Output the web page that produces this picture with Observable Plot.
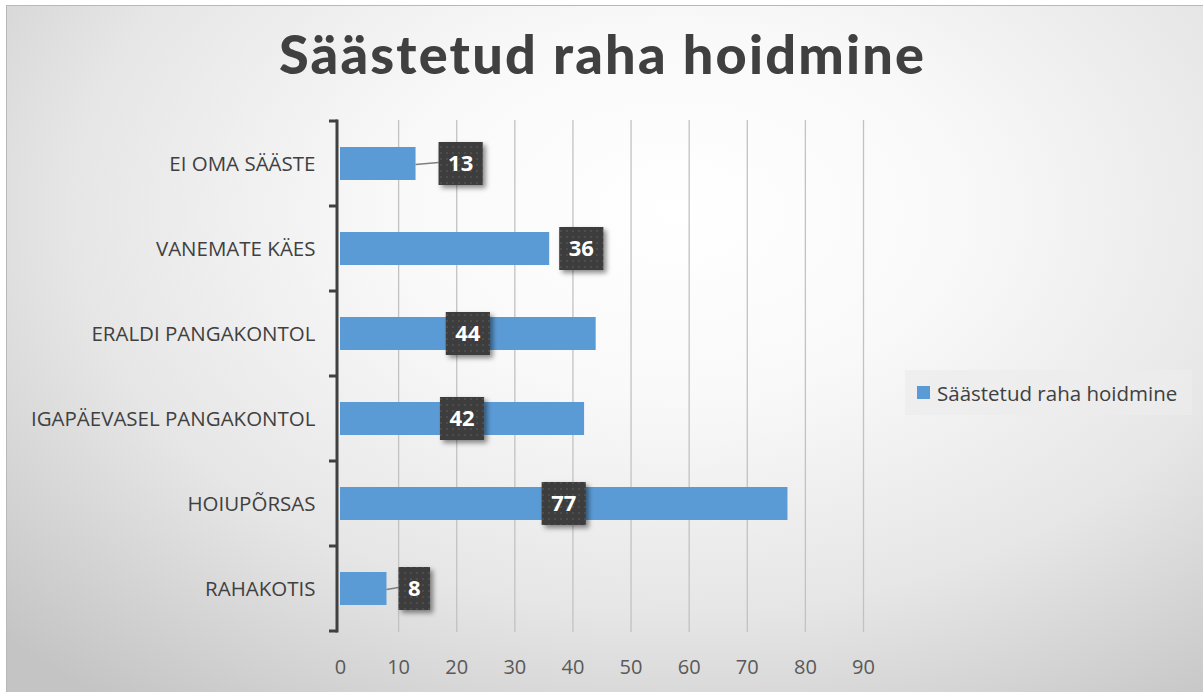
<!DOCTYPE html>
<html>
<head>
<meta charset="utf-8">
<script src="https://cdn.jsdelivr.net/npm/d3@7"></script>
<script src="https://cdn.jsdelivr.net/npm/@observablehq/plot@0.6"></script>
<style>
  html, body { margin: 0; padding: 0; background: #ffffff; }
  #wrap { position: relative; width: 1203px; height: 692px; overflow: hidden; }
  #frame {
    position: absolute; left: 6px; top: 5px; width: 1197px; height: 687px;
    box-sizing: border-box; border-left: 1px solid #b8b8b8; border-top: 1px solid #b8b8b8;
    background: radial-gradient(ellipse 78% 90% at 56% 30%, #ffffff 0%, #f9f9f9 30%, #e6e6e6 65%, #c4c4c4 100%);
  }
  #title {
    position: absolute; left: 0; width: 1203px; top: 27px; text-align: center;
    font-family: Lato, "Open Sans", sans-serif; font-weight: 900; font-size: 54px; line-height: 1;
    color: #404040; white-space: nowrap;
  }
  #chart { position: absolute; left: 0; top: 0; }
  #legend {
    position: absolute; left: 905px; top: 370px; width: 287px; height: 45px;
    background: rgba(236,236,236,0.75); display: flex; align-items: center;
    font-family: "Open Sans", Lato, sans-serif; font-size: 20.5px; color: #404040; box-sizing: border-box; padding-left: 12px;
  }
  #legend .sw { width: 13px; height: 13px; background: #5B9BD5; margin-right: 7px; flex: none; }
</style>
</head>
<body>
<div id="wrap">
  <div id="frame"></div>
  <div id="chart"></div>
  <div id="title"></div>
  <div id="legend"><span class="sw"></span><span id="legendText"></span></div>
</div>
<script>
const chartTitle = "Säästetud raha hoidmine";
const seriesName = "Säästetud raha hoidmine";
const categories = ["EI OMA SÄÄSTE", "VANEMATE KÄES", "ERALDI PANGAKONTOL", "IGAPÄEVASEL PANGAKONTOL", "HOIUPÕRSAS", "RAHAKOTIS"];
const values = [13, 36, 44, 42, 77, 8];
const xTicks = [0, 10, 20, 30, 40, 50, 60, 70, 80, 90];

const data = categories.map((c, i) => ({category: c, value: values[i]}));

// label placement styling (pixel gaps for labels drawn outside short bars)
const outsideLabel = {
  "EI OMA SÄÄSTE": {gap: 23, leader: true},
  "VANEMATE KÄES": {gap: 10, leader: false},
  "RAHAKOTIS": {gap: 12, leader: true}
};

function yFrame(index, {x, y}) {
  const g = d3.create("svg:g").attr("stroke", "#404040").attr("stroke-width", 3).attr("fill", "none");
  const bw = y.bandwidth();
  const step = y.step();
  const pad = step - bw;
  const x0 = x(0) - 3;
  const bounds = categories.map(c => y(c) - pad / 2);
  bounds.push(y(categories[categories.length - 1]) + bw + pad / 2);
  g.append("line").attr("x1", x0).attr("x2", x0).attr("y1", bounds[0] - 1.5).attr("y2", bounds[bounds.length - 1] + 1.5);
  for (const b of bounds) {
    g.append("line").attr("x1", x0 - 8).attr("x2", x0).attr("y1", b).attr("y2", b);
  }
  return g.node();
}

function dataLabels(index, {x, y}) {
  const g = d3.create("svg:g");
  const defs = g.append("defs");
  const f = defs.append("filter").attr("id", "lblShadow").attr("x", "-30%").attr("y", "-30%").attr("width", "170%").attr("height", "170%");
  f.append("feDropShadow").attr("dx", 3).attr("dy", 3).attr("stdDeviation", 2.5).attr("flood-color", "#000").attr("flood-opacity", 0.45);
  const p = defs.append("pattern").attr("id", "lblDots").attr("width", 6).attr("height", 6).attr("patternUnits", "userSpaceOnUse");
  p.append("rect").attr("width", 6).attr("height", 6).attr("fill", "#3d3d3d");
  p.append("circle").attr("cx", 3).attr("cy", 3).attr("r", 0.9).attr("fill", "#555555");
  const bw = y.bandwidth();
  for (const d of data) {
    const cy = y(d.category) + bw / 2;
    const xEnd = x(d.value);
    const w = String(d.value).length * 12.6 + 19, h = 43;
    let cx;
    const o = outsideLabel[d.category];
    if (o) {
      cx = xEnd + o.gap + w / 2;
      if (o.leader) {
        g.append("line").attr("x1", xEnd).attr("y1", cy + 1).attr("x2", xEnd + o.gap).attr("y2", cy - 1)
          .attr("stroke", "#7f7f7f").attr("stroke-width", 1.5);
      }
    } else {
      cx = (x(0) + xEnd) / 2;
    }
    g.append("rect").attr("x", cx - w / 2).attr("y", cy - h / 2).attr("width", w).attr("height", h)
      .attr("fill", "url(#lblDots)").attr("filter", "url(#lblShadow)");
    g.append("text").attr("x", cx).attr("y", cy).attr("dy", "0.36em").attr("text-anchor", "middle")
      .attr("fill", "#ffffff").attr("font-weight", "bold").attr("font-size", 22)
      .attr("font-family", "'Open Sans', sans-serif").text(d.value);
  }
  return g.node();
}

const chart = Plot.plot({
  width: 1203,
  height: 692,
  marginLeft: 340,
  marginRight: 340,
  marginTop: 120,
  marginBottom: 60,
  style: {background: "transparent", fontFamily: "'Open Sans', sans-serif", color: "#404040", overflow: "visible"},
  x: {domain: [0, 90]},
  y: {domain: categories, paddingInner: 0.61, paddingOuter: 0.305},
  marks: [
    Plot.gridX(xTicks.filter(t => t > 0), {stroke: "#c2c2c2", strokeOpacity: 1, strokeWidth: 1.3}),
    Plot.barX(data, {x: "value", y: "category", fill: "#5B9BD5"}),
    Plot.axisX(xTicks, {tickSize: 0, tickPadding: 27, fontSize: 20, fill: "#595959", label: null}),
    Plot.axisY({tickSize: 0, tickPadding: 25, fontSize: 20.5, fill: "#404040", label: null}),
    yFrame,
    dataLabels
  ]
});
document.getElementById("chart").appendChild(chart);

const t = document.getElementById("title");
t.textContent = chartTitle;
document.getElementById("legendText").textContent = seriesName;
// stretch title to the reference width
const span = document.createElement("span");
span.textContent = chartTitle;
span.style.font = getComputedStyle(t).font;
span.style.position = "absolute"; span.style.visibility = "hidden"; span.style.whiteSpace = "nowrap";
document.body.appendChild(span);
const wNow = span.getBoundingClientRect().width;
span.remove();
const target = 645;
const ls = (target - wNow) / (chartTitle.length - 1);
t.style.letterSpacing = ls + "px";
t.style.textIndent = ls + "px";
</script>
</body>
</html>
